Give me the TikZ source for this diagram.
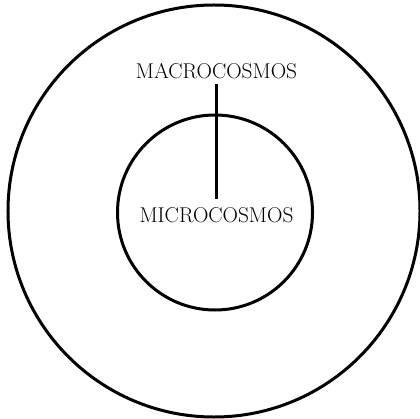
\documentclass[tikz,border=0pt]{standalone}
\usepackage{xcolor}
\usepackage{tikz}
\usetikzlibrary{positioning,calc}
\definecolor{csInk}{HTML}{000000}
\tikzset{
  cosmos ring/.style={circle,draw=csInk,line width=0.75mm,inner sep=0pt},
  cosmos label/.style={font=\fontsize{15.2}{17}\selectfont,text=csInk,inner xsep=2pt,inner ysep=1.3mm},
  cosmos link/.style={line width=0.75mm,draw=csInk}
}

\begin{document}
\begin{tikzpicture}[x=0.25mm,y=-0.25mm]
\useasboundingbox (0,0) rectangle (420,419);
\node[cosmos ring,minimum size=103mm] (outer) at (214,211) {};
\node[cosmos ring,minimum size=48.75mm] (inner) at (215,212.5) {};
\node[cosmos label] (macro) at (216.5,71) {MACROCOSMOS};
\node[cosmos label,inner ysep=2.1mm] (micro) at (216.5,215) {MICROCOSMOS};
\draw[cosmos link] (macro.south) -- (micro.north);
\end{tikzpicture}
\end{document}
